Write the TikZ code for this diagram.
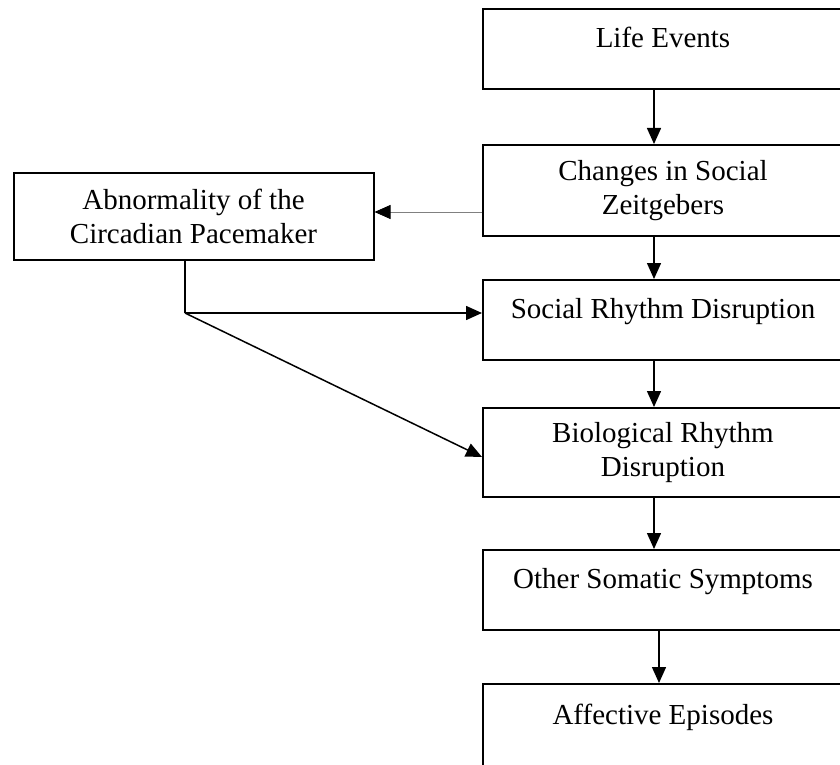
\documentclass[tikz,border=0pt]{standalone}
\usepackage{fontspec}
\setmainfont{Liberation Serif}
\usetikzlibrary{arrows.meta}
\begin{document}
\begin{tikzpicture}[x=0.5pt, y=-0.5pt, line width=0.75pt,
    every node/.style={font=\fontsize{14.5}{17}\selectfont},
    box/.style={draw, line width=1pt, minimum width=180pt, inner ysep=0pt, align=center},
    onebox/.style={box, text height=19pt, text depth=21pt},
    arr/.style={-{Triangle[length=8pt, width=7pt]}}]
  \useasboundingbox (0,0) rectangle (840,765);
  % main column on the right
  \node[onebox] (life) at (663,49.5) {Life Events};
  \node[box, minimum height=45.5pt] (zeit) at (663,190.5) {Changes in Social\\Zeitgebers};
  \node[onebox] (social) at (663,320) {Social Rhythm Disruption};
  \node[box, minimum height=44.5pt] (bio) at (663,452.5) {Biological Rhythm\\Disruption};
  \node[onebox] (somatic) at (663,590) {Other Somatic Symptoms};
  \node[box, text height=20pt, text depth=30pt] (affect) at (663,734) {Affective Episodes};
  % pacemaker box on the left
  \node[box, minimum height=43.5pt] (pacer) at (193.5,216.5) {Abnormality of the\\Circadian Pacemaker};
  \coordinate (spine) at (654,0);
  \coordinate (spine2) at (659,0);
  \coordinate (zg) at (0,212);
  \coordinate (knee) at (185,313);
  \draw[arr] (life.south -| spine) -- (zeit.north -| spine);
  \draw[arr] (zeit.south -| spine) -- (social.north -| spine);
  \draw[arr] (social.south -| spine) -- (bio.north -| spine);
  \draw[arr] (bio.south -| spine) -- (somatic.north -| spine);
  \draw[arr] (somatic.south -| spine2) -- (affect.north -| spine2);
  % thin link to the pacemaker
  \draw[-{Triangle[length=8pt, width=7pt, color=black]}, line width=0.4pt, draw=gray] (zeit.west |- zg) -- (pacer.east |- zg);
  \draw (pacer.south -| knee) -- (knee);
  \draw[arr] (knee) -- (social.west |- knee);
  \draw[arr] (knee) -- ([yshift=-2.25pt]bio.west);
\end{tikzpicture}
\end{document}
